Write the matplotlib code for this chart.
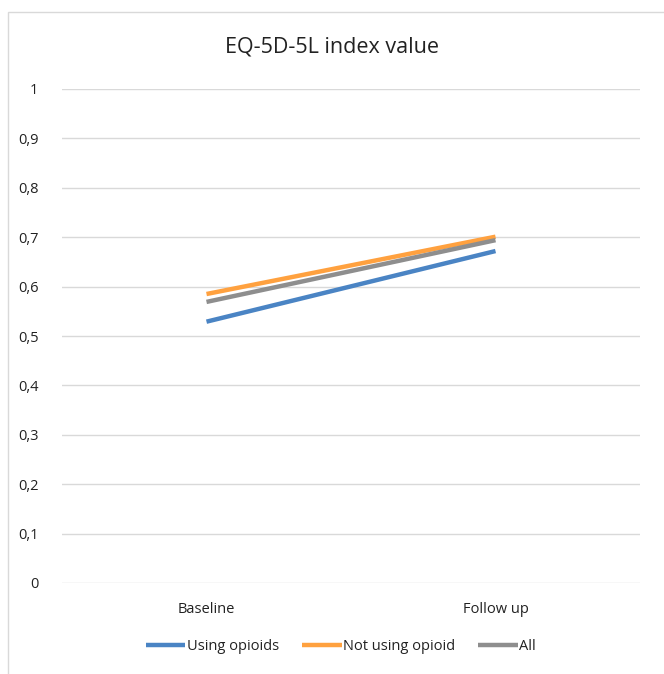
import matplotlib
matplotlib.use("Agg")
import matplotlib.pyplot as plt
from matplotlib.patches import Rectangle

categories = ["Baseline", "Follow up"]
series_names = ["Using opioids", "Not using opioid", "All"]
using_opioids = [0.529, 0.672]
not_using_opioid = [0.585, 0.701]
all_patients = [0.569, 0.694]
y_ticks = [0, 0.1, 0.2, 0.3, 0.4, 0.5, 0.6, 0.7, 0.8, 0.9, 1]
y_tick_labels = ["0", "0,1", "0,2", "0,3", "0,4", "0,5", "0,6", "0,7", "0,8", "0,9", "1"]

colors = ["#4A84C4", "#FFA13F", "#8E8E8E"]

plt.rcParams["font.family"] = ["Open Sans", "DejaVu Sans"]

fig = plt.figure(figsize=(6.64, 6.74), dpi=100)
fig.patch.set_facecolor("white")

# chart frame
fig.patches.append(Rectangle((8 / 664, -0.01), 1.0, 1 - 12 / 674 + 0.01,
                             transform=fig.transFigure, fill=False,
                             edgecolor="#D9D9D9", linewidth=1.0))

ax = fig.add_axes([62 / 664, 1 - 583 / 674, 578 / 664, 494 / 674])
x = [0.5, 1.5]
for vals, name, c in zip([using_opioids, not_using_opioid, all_patients], series_names, colors):
    ax.plot(x, vals, color=c, linewidth=3.2, label=name, solid_capstyle="butt")

ax.set_xlim(0, 2)
ax.set_ylim(0, 1)
ax.set_yticks(y_ticks)
ax.set_yticklabels(y_tick_labels)
ax.set_xticks(x)
ax.set_xticklabels(categories)
for s in ax.spines.values():
    s.set_visible(False)
ax.grid(axis="y", color="#D9D9D9", linewidth=1.0)
ax.set_axisbelow(True)
ax.tick_params(axis="both", length=0, labelsize=10.5, colors="#222222")
ax.tick_params(axis="y", pad=17)
ax.tick_params(axis="x", pad=14)

fig.text(0.5, 1 - 47 / 674, "EQ-5D-5L index value", ha="center", va="center",
         fontsize=15.5, color="#222222")

fig.legend(loc="center", bbox_to_anchor=(341 / 664, 1 - 647 / 674), ncol=3,
           frameon=False, fontsize=10.5, handlelength=2.7, handletextpad=0.1,
           columnspacing=1.6, labelcolor="#222222")

fig.savefig("out.png", dpi=100)
